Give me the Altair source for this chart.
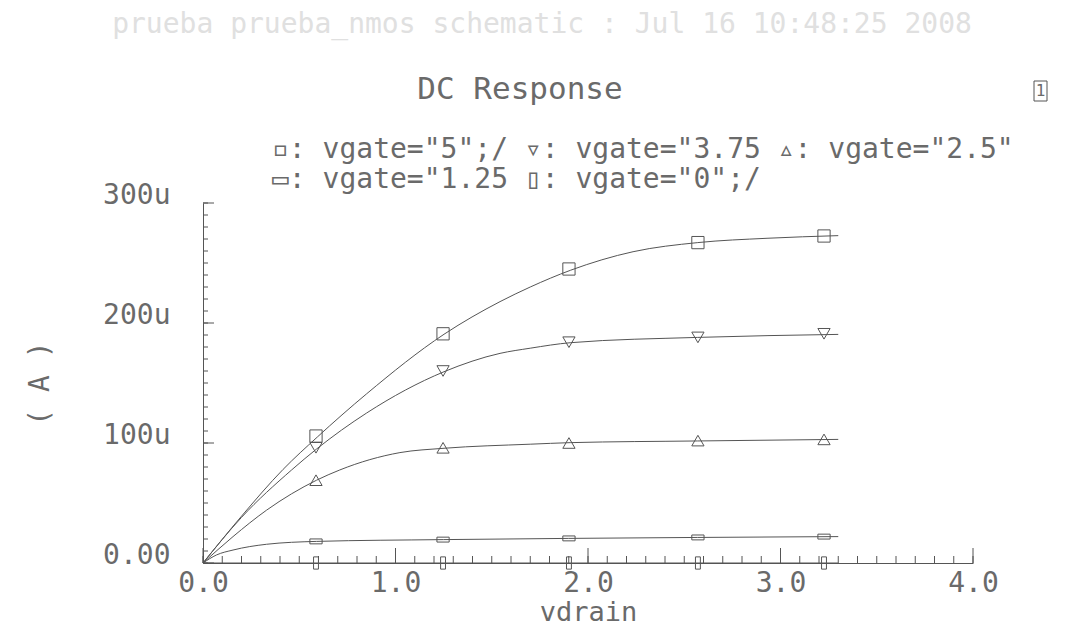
import altair as alt
import pandas as pd

FONT = "DejaVu Sans Mono"
TXT = "#6a6a6a"
LINE = "#555555"

# curve samples: vdrain (V) and drain current (uA)
v_5 = [0, 0.2, 0.416, 0.594, 0.85, 1.252, 1.543, 1.70, 1.91, 2.234, 2.57, 2.93, 3.3]
i_5 = [0, 39, 78, 105, 141, 190.6, 217.8, 230, 244, 259.4, 267, 270.6, 272.8]
v_375 = [0, 0.2, 0.46, 0.59, 0.85, 1.252, 1.543, 1.70, 1.91, 2.57, 3.3]
i_375 = [0, 38, 77.5, 95, 125, 159.4, 174.7, 179, 183.6, 188, 190.5]
v_25 = [0, 0.156, 0.33, 0.59, 0.71, 1.023, 1.252, 1.70, 1.91, 2.57, 3.3]
i_25 = [0, 22, 44, 69, 77.5, 92, 95.6, 99, 100.3, 101.7, 103]
v_125 = [0, 0.07, 0.156, 0.33, 0.59, 1.25, 1.9, 2.57, 3.3]
i_125 = [0, 6.7, 10.8, 15.6, 18, 19.5, 20.5, 21.3, 22]
v_0 = [0, 3.3]
i_0 = [0, 0]

# marker positions
marker_v = [0.587, 1.247, 1.901, 2.571, 3.226]
mk_5 = [105.8, 191, 245, 267, 272.5]
mk_375 = [96, 160, 184, 188, 191]
mk_25 = [69, 96, 100, 102, 103]
mk_125 = [18, 19.5, 20.5, 21.3, 22]
mk_0 = [0, 0, 0, 0, 0]

series = ["5", "3.75", "2.5", "1.25", "0"]
x_tick_labels = [0, 1, 2, 3, 4]
y_tick_labels = [0, 100, 200, 300]

header = "prueba prueba_nmos schematic : Jul 16 10:48:25 2008"
title_text = "DC Response"
legend_1 = '\u25ab: vgate="5";/ \u25bf: vgate="3.75 \u25b5: vgate="2.5"'
legend_2 = '\u25ad: vgate="1.25 \u25af: vgate="0";/'

curves = [(v_5, i_5), (v_375, i_375), (v_25, i_25), (v_125, i_125), (v_0, i_0)]
marks = [mk_5, mk_375, mk_25, mk_125, mk_0]

rows = []
for s, (vv, ii) in zip(series, curves):
    for a, b in zip(vv, ii):
        rows.append({"vgate": s, "v": a, "i": b})
line_df = pd.DataFrame(rows)

mrows = []
for s, mm in zip(series, marks):
    for a, b in zip(marker_v, mm):
        mrows.append({"vgate": s, "v": a, "i": b})
mark_df = pd.DataFrame(mrows)

x_scale = alt.Scale(domain=[0, 4], nice=False, zero=False)
y_scale = alt.Scale(domain=[0, 300], nice=False)

x_axis = alt.Axis(
    values=x_tick_labels, format=".1f", ticks=False, tickSize=0, grid=False,
    domainColor=LINE, labelFont=FONT, labelFontSize=28, labelColor=TXT,
    labelPadding=6, labelFlush=False, labelOverlap=False,
    title="vdrain", titleFont=FONT, titleFontSize=27, titleFontWeight="normal",
    titleColor=TXT, titleX=385, titleY=57, titleBaseline="alphabetic",
)
y_axis = alt.Axis(
    values=y_tick_labels, labelExpr="datum.value == 0 ? '0.00' : datum.value + 'u'",
    ticks=False, tickSize=0, grid=False, domainColor=LINE,
    labelFont=FONT, labelFontSize=28, labelColor=TXT, labelPadding=33,
    labelBaseline="alphabetic", labelFlush=False, labelOverlap=False,
    title="( A )", titleFont=FONT, titleFontSize=28, titleFontWeight="normal",
    titleColor=TXT, titleX=-163, titleY=180, titleBaseline="middle", titleAlign="center",
)

base_line = alt.Chart(line_df).mark_line(interpolate="monotone", color=LINE, strokeWidth=1).encode(
    x=alt.X("v:Q", scale=x_scale, axis=x_axis),
    y=alt.Y("i:Q", scale=y_scale, axis=y_axis),
    detail="vgate:N",
)

rect_h = "M-1,-0.4L1,-0.4L1,0.4L-1,0.4Z"
rect_v = "M-0.4,-1L0.4,-1L0.4,1L-0.4,1Z"
points = alt.Chart(mark_df).mark_point(filled=False, color=LINE, strokeWidth=1, opacity=1, size=150).encode(
    x=alt.X("v:Q", scale=x_scale),
    y=alt.Y("i:Q", scale=y_scale),
    shape=alt.Shape("vgate:N", scale=alt.Scale(domain=series,
                    range=["square", "triangle-down", "triangle-up", rect_h, rect_v]), legend=None),
)

# axis ticks (inward)
y_minor = pd.DataFrame({"t": [k * 10 for k in range(31)]})
y_major = pd.DataFrame({"t": y_tick_labels})
x_minor = pd.DataFrame({"t": [k / 10 for k in range(41)]})
x_major = pd.DataFrame({"t": x_tick_labels})

ym = alt.Chart(y_minor).mark_rule(color=LINE, strokeWidth=1).encode(
    y=alt.Y("t:Q", scale=y_scale), x=alt.value(0), x2=alt.value(5))
yM = alt.Chart(y_major).mark_rule(color=LINE, strokeWidth=1).encode(
    y=alt.Y("t:Q", scale=y_scale), x=alt.value(0), x2=alt.value(11))
xm = alt.Chart(x_minor).mark_rule(color=LINE, strokeWidth=1).encode(
    x=alt.X("t:Q", scale=x_scale), y=alt.value(360), y2=alt.value(353))
xM = alt.Chart(x_major).mark_rule(color=LINE, strokeWidth=1).encode(
    x=alt.X("t:Q", scale=x_scale), y=alt.value(360), y2=alt.value(345))

def label(text, x, y, size, color=TXT, align="center"):
    return alt.Chart(pd.DataFrame({"t": [text]})).mark_text(
        font=FONT, fontSize=size, color=color, align=align, baseline="middle"
    ).encode(text="t:N", x=alt.value(x), y=alt.value(y))

head = label(header, 339, -178, 28, color="#e0e0e0")
ttl = label(title_text, 317, -113, 31)
leg1 = label(legend_1, 69, -53, 28, align="left")
leg2 = label(legend_2, 69, -23, 28, align="left")

box = alt.Chart(pd.DataFrame({"k": [0]})).mark_rect(fill="white", stroke=LINE, strokeWidth=1).encode(
    x=alt.value(831), x2=alt.value(844), y=alt.value(-122), y2=alt.value(-102))
box_t = label("1", 837.5, -112, 16)

chart = alt.layer(ym, yM, xm, xM, base_line, points, head, ttl, leg1, leg2, box, box_t).properties(
    width=770, height=360,
    autosize=alt.AutoSizeParams(type="none"),
    padding={"left": 195, "top": 195, "right": 80, "bottom": 64},
).configure_view(stroke=None)

chart.save("out.html", embed_options={"renderer": "svg", "actions": False})
